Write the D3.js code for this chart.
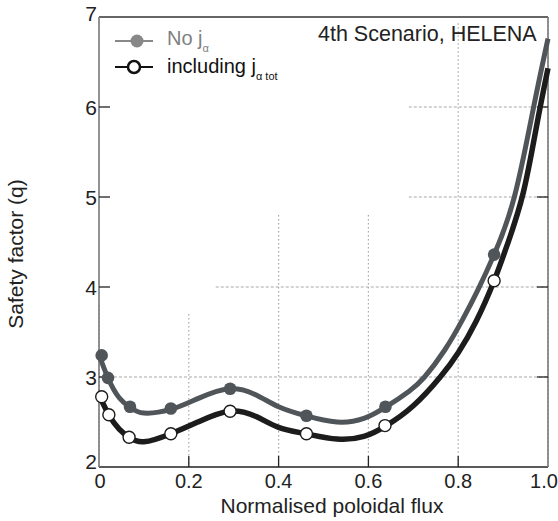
<!DOCTYPE html>
<html>
<head>
<meta charset="utf-8">
<script src="https://cdn.jsdelivr.net/npm/d3@7"></script>
<style>
  html, body { margin: 0; padding: 0; background: #fff; }
  svg { display: block; font-family: "Liberation Sans", Arial, Helvetica, sans-serif; }
</style>
</head>
<body>
<svg id="chart" width="558" height="521"></svg>
<script>
// ---- data ----
const xTicks = [0, 0.2, 0.4, 0.6, 0.8, 1.0];
const xTickLabels = ["0", "0.2", "0.4", "0.6", "0.8", "1.0"];
const yTicks = [2, 3, 4, 5, 6, 7];
const yTickLabels = ["2", "3", "4", "5", "6", "7"];

// smooth profile (No j_alpha)
const noJLine = [
  [0, 3.25], [0.02, 2.99], [0.045, 2.77], [0.07, 2.66], [0.1, 2.6], [0.16, 2.64],
  [0.22, 2.76], [0.29, 2.87], [0.35, 2.8], [0.4, 2.67], [0.46, 2.57], [0.53, 2.5],
  [0.59, 2.54], [0.64, 2.67], [0.69, 2.84], [0.725, 3.0], [0.77, 3.3], [0.81, 3.64],
  [0.845, 3.98], [0.88, 4.36], [0.925, 5.0], [0.968, 6.0], [1.0, 6.76]
];
const noJMarkers = [
  [0.006, 3.24], [0.02, 2.99], [0.069, 2.67], [0.16, 2.65], [0.292, 2.87],
  [0.462, 2.57], [0.638, 2.67], [0.88, 4.36]
];
// smooth profile (including j_alpha tot)
const totLine = [
  [0, 2.8], [0.022, 2.58], [0.045, 2.42], [0.067, 2.33], [0.1, 2.28], [0.16, 2.37],
  [0.22, 2.5], [0.29, 2.62], [0.35, 2.56], [0.4, 2.44], [0.46, 2.37], [0.53, 2.31],
  [0.59, 2.34], [0.64, 2.46], [0.7, 2.68], [0.76, 3.0], [0.8, 3.27], [0.84, 3.62],
  [0.88, 4.07], [0.91, 4.48], [0.945, 5.05], [0.975, 5.8], [1.0, 6.43]
];
const totMarkers = [
  [0.006, 2.78], [0.022, 2.58], [0.067, 2.33], [0.16, 2.37], [0.292, 2.62],
  [0.462, 2.37], [0.637, 2.46], [0.88, 4.07]
];

// partial grid lines: value and where each one starts (data units)
const gridX = [[0, 3.8], [0.2, 3.7], [0.4, 4.8], [0.6, 4.8], [0.8, 6.93], [1.0, 7]];
const gridY = [[3, 0], [4, 0.26], [5, 0.69], [6, 0.69]];

// ---- layout ----
const svg = d3.select("#chart");
const x = d3.scaleLinear().domain([0, 1]).range([99, 548]);
const y = d3.scaleLinear().domain([2, 7]).range([467, 17]);

// grid
svg.append("g").selectAll("line").data(gridX).join("line")
  .attr("x1", d => x(d[0])).attr("x2", d => x(d[0]))
  .attr("y1", d => y(d[1])).attr("y2", y(2))
  .attr("stroke", "#a8a8a8").attr("stroke-width", 1.2)
  .attr("stroke-dasharray", "1.5,2.5");
svg.append("g").selectAll("line").data(gridY).join("line")
  .attr("x1", d => x(d[1])).attr("x2", x(1))
  .attr("y1", d => y(d[0])).attr("y2", d => y(d[0]))
  .attr("stroke", "#a8a8a8").attr("stroke-width", 1.2)
  .attr("stroke-dasharray", "3,2");

// frame
svg.append("line").attr("x1", x(0)).attr("x2", x(1)).attr("y1", y(2)).attr("y2", y(2))
  .attr("stroke", "#222").attr("stroke-width", 1.5);
svg.append("line").attr("x1", x(0)).attr("x2", x(1)).attr("y1", y(7)).attr("y2", y(7))
  .attr("stroke", "#333").attr("stroke-width", 1.3);
svg.append("line").attr("x1", x(0)).attr("x2", x(0)).attr("y1", y(2)).attr("y2", y(7))
  .attr("stroke", "#777").attr("stroke-width", 1.6);
svg.append("line").attr("x1", x(1)).attr("x2", x(1)).attr("y1", y(2)).attr("y2", y(7))
  .attr("stroke", "#777").attr("stroke-width", 1.6);

// inward ticks
const tickLen = 11;
svg.append("g").selectAll("line").data(xTicks.slice(1, -1)).join("line")
  .attr("x1", d => x(d)).attr("x2", d => x(d))
  .attr("y1", y(2)).attr("y2", y(2) - tickLen)
  .attr("stroke", "#222").attr("stroke-width", 1.3);
svg.append("g").selectAll("line").data(yTicks.slice(1, -1)).join("line")
  .attr("x1", x(0)).attr("x2", x(0) + tickLen)
  .attr("y1", d => y(d)).attr("y2", d => y(d))
  .attr("stroke", "#222").attr("stroke-width", 1.3);
svg.append("g").selectAll("line").data(yTicks.slice(1, -1)).join("line")
  .attr("x1", x(1)).attr("x2", x(1) - tickLen)
  .attr("y1", d => y(d)).attr("y2", d => y(d))
  .attr("stroke", "#222").attr("stroke-width", 1.3);

// tick labels
svg.append("g").selectAll("text").data(xTicks).join("text")
  .attr("x", (d, i) => x(d) + (i === 0 ? 1 : 0) - (i === xTicks.length - 1 ? 4 : 0))
  .attr("y", 488)
  .attr("text-anchor", "middle")
  .attr("font-size", 20).attr("fill", "#222")
  .text((d, i) => xTickLabels[i]);
svg.append("g").selectAll("text").data(yTicks).join("text")
  .attr("x", 97)
  .attr("y", (d, i) => y(d) + 8 - (i === 0 ? 6 : 0) - (i === yTicks.length - 1 ? 4 : 0))
  .attr("text-anchor", "end")
  .attr("font-size", 21).attr("fill", "#222")
  .text((d, i) => yTickLabels[i]);

// axis titles
svg.append("text").attr("x", 332).attr("y", 513).attr("text-anchor", "middle")
  .attr("font-size", 21).attr("fill", "#222").text("Normalised poloidal flux");
svg.append("text").attr("transform", "translate(23,254) rotate(-90)")
  .attr("text-anchor", "middle")
  .attr("font-size", 21).attr("fill", "#222").text("Safety factor (q)");

// curves
const line = d3.line().x(d => x(d[0])).y(d => y(d[1])).curve(d3.curveNatural);
svg.append("path").datum(noJLine).attr("d", line)
  .attr("fill", "none").attr("stroke", "#50555a").attr("stroke-width", 5);
svg.append("path").datum(totLine).attr("d", line)
  .attr("fill", "none").attr("stroke", "#1c1c1c").attr("stroke-width", 5.5);

svg.append("g").selectAll("circle").data(noJMarkers).join("circle")
  .attr("cx", d => x(d[0])).attr("cy", d => y(d[1])).attr("r", 6.3)
  .attr("fill", "#50555a");
svg.append("g").selectAll("circle").data(totMarkers).join("circle")
  .attr("cx", d => x(d[0])).attr("cy", d => y(d[1])).attr("r", 6)
  .attr("fill", "#fff").attr("stroke", "#1c1c1c").attr("stroke-width", 1.4);

// annotation
svg.append("text").attr("x", 318).attr("y", 41)
  .attr("font-size", 21.5).attr("fill", "#222").text("4th Scenario, HELENA");

// legend
const lg = svg.append("g");
lg.append("line").attr("x1", 115).attr("x2", 153).attr("y1", 41).attr("y2", 41)
  .attr("stroke", "#888").attr("stroke-width", 2);
lg.append("circle").attr("cx", 137).attr("cy", 41).attr("r", 6.5).attr("fill", "#888");
const t1 = lg.append("text").attr("x", 167).attr("y", 44.5).attr("font-size", 20).attr("fill", "#808080");
t1.append("tspan").text("No j");
t1.append("tspan").attr("dy", 7.5).attr("font-size", 11).text("α");

lg.append("line").attr("x1", 115).attr("x2", 153).attr("y1", 67).attr("y2", 67)
  .attr("stroke", "#111").attr("stroke-width", 2);
lg.append("circle").attr("cx", 134).attr("cy", 67).attr("r", 6)
  .attr("fill", "#fff").attr("stroke", "#111").attr("stroke-width", 2.5);
const t2 = lg.append("text").attr("x", 167).attr("y", 73).attr("font-size", 20).attr("fill", "#111");
t2.append("tspan").text("including j");
t2.append("tspan").attr("dy", 7).attr("font-size", 11).text("α tot");
</script>
</body>
</html>
